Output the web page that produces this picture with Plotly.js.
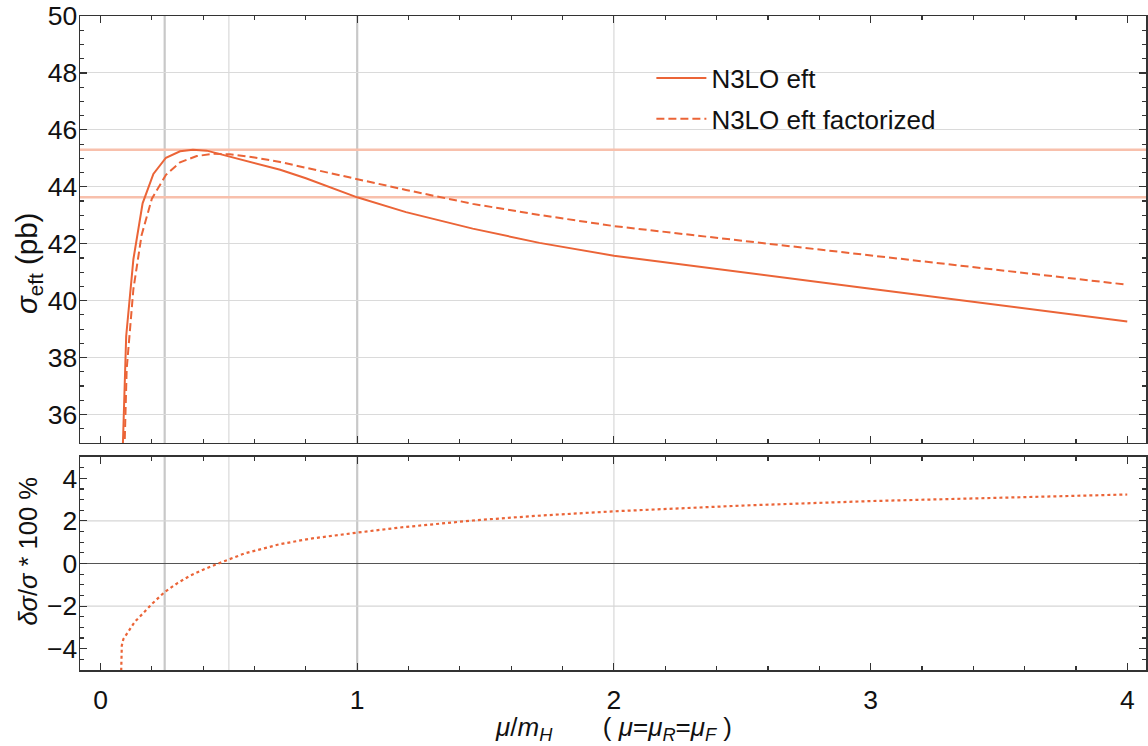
<!DOCTYPE html>
<html>
<head>
<meta charset="utf-8">
<script src="https://cdn.plot.ly/plotly-3.0.1.min.js"></script>
<style>html,body{margin:0;padding:0;background:#fff;}</style>
</head>
<body>
<div id="chart" style="width:1148px;height:746px;"></div>
<script>
// ---- data ----
const muSolid = [0.085, 0.100, 0.128, 0.164, 0.206, 0.255, 0.31, 0.36, 0.414, 0.504, 0.6, 0.7, 0.8, 0.9, 1.0, 1.19, 1.45, 1.71, 2.0, 3.0, 4.0];
const sigmaSolid = [34.3, 38.75, 41.45, 43.42, 44.45, 45.02, 45.25, 45.30, 45.27, 45.06, 44.85, 44.6, 44.3, 43.96, 43.63, 43.11, 42.53, 42.03, 41.58, 40.42, 39.27];

const muFact = [0.092, 0.102, 0.128, 0.16, 0.2, 0.255, 0.31, 0.375, 0.44, 0.504, 0.6, 0.7, 0.8, 0.9, 1.0, 1.19, 1.45, 1.71, 2.0, 3.0, 4.0];
const sigmaFact = [34.3, 37.6, 40.4, 42.3, 43.58, 44.42, 44.86, 45.08, 45.16, 45.14, 45.03, 44.87, 44.67, 44.47, 44.26, 43.89, 43.4, 43.01, 42.62, 41.6, 40.56];

const muRatio = [0.0795, 0.0815, 0.083, 0.089, 0.102, 0.134, 0.165, 0.2, 0.25, 0.3, 0.35, 0.4, 0.459, 0.5, 0.563, 0.7, 0.82, 1.0, 1.167, 1.45, 1.7, 2.0, 2.5, 3.0, 3.5, 4.0];
const ratioPct = [-5.6, -4.3, -3.85, -3.55, -3.3, -2.73, -2.35, -1.9, -1.34, -0.92, -0.57, -0.29, 0.0, 0.2, 0.48, 0.91, 1.17, 1.45, 1.69, 2.02, 2.24, 2.45, 2.72, 2.93, 3.1, 3.24];

const seriesNames = ["N3LO eft", "N3LO eft factorized"];
const xTickVals = [0, 1, 2, 3, 4];
const gridXStrong = [0.25, 1];
const gridXLight = [0.5, 2];
const gridY2 = [-2, 2];
// reference levels: maximum of the solid curve and its value at mu = mH
const refLevels = [Math.max(...sigmaSolid), sigmaSolid[muSolid.indexOf(1.0)]];

// ---- styling ----
const C = '#EB6437';
const FONT = 'Liberation Sans, Arial, sans-serif';
const TICKFONT = {family: FONT, size: 26.5, color: '#111'};
const frame = {showline: true, linecolor: '#333', linewidth: 1.5, mirror: 'allticks',
  ticks: 'inside', ticklen: 7, tickwidth: 1.2, tickcolor: '#333', zeroline: false};
const minorX = {dtick: 0.2, tick0: 0, ticks: 'inside', ticklen: 4, tickcolor: '#333', showgrid: false};
const minorY = {dtick: 0.5, tick0: 0, ticks: 'inside', ticklen: 4, tickcolor: '#333', showgrid: false};

const traces = [
  {x: muSolid, y: sigmaSolid, type: 'scatter', mode: 'lines', name: seriesNames[0],
   line: {color: C, width: 2}, xaxis: 'x', yaxis: 'y', legendgroup: 'a'},
  {x: muFact, y: sigmaFact, type: 'scatter', mode: 'lines', name: seriesNames[1],
   line: {color: C, width: 2, dash: '8px,4px'}, xaxis: 'x', yaxis: 'y', legendgroup: 'b'},
  {x: muRatio, y: ratioPct, type: 'scatter', mode: 'lines', showlegend: false,
   line: {color: C, width: 2.2, dash: '3px,3px'}, xaxis: 'x2', yaxis: 'y2'}
];

const shapes = [];
function vline(x, color, w) {
  ['y domain', 'y2 domain'].forEach((yr, i) => {
    shapes.push({type: 'line', layer: 'below', xref: i ? 'x2' : 'x', yref: yr, x0: x, x1: x, y0: 0, y1: 1,
      line: {color: color, width: w}});
  });
}
gridXStrong.forEach(x => vline(x, '#c8c8c8', 2.2));
gridXLight.forEach(x => vline(x, '#dedede', 1.4));
gridY2.forEach(y => shapes.push({type: 'line', layer: 'below', xref: 'x2 domain', yref: 'y2', x0: 0, x1: 1, y0: y, y1: y,
  line: {color: '#d6d6d6', width: 1.2}}));
refLevels.forEach(y => shapes.push({type: 'line', layer: 'below', xref: 'x domain', yref: 'y', x0: 0, x1: 1, y0: y, y1: y,
  line: {color: '#F8C0AC', width: 2.5}}));

const layout = {
  width: 1148, height: 746,
  margin: {l: 80, r: 2, t: 16, b: 76},
  paper_bgcolor: '#fff', plot_bgcolor: '#fff',
  font: {family: FONT, size: 24, color: '#111'},
  showlegend: true,
  legend: {x: 0.5360, xanchor: 'left', y: 0.941, yanchor: 'top', bgcolor: 'rgba(0,0,0,0)',
    font: {family: FONT, size: 26, color: '#111'}, itemwidth: 50, tracegroupgap: 4, traceorder: 'grouped'},
  xaxis: Object.assign({}, frame, {domain: [0, 1], anchor: 'y', range: [-0.0799, 4.073],
    tickvals: xTickVals, showticklabels: false, showgrid: false, minor: minorX}),
  yaxis: Object.assign({}, frame, {domain: [0.3471, 1], anchor: 'x', range: [35, 50],
    tick0: 0, dtick: 2, showgrid: true, gridcolor: '#dadada', gridwidth: 1,
    tickfont: TICKFONT, ticklabelstandoff: -4, minor: minorY}),
  xaxis2: Object.assign({}, frame, {domain: [0, 1], anchor: 'y2', matches: 'x', range: [-0.0799, 4.073],
    tickvals: xTickVals, showgrid: false, ticklabelstandoff: 6, tickfont: TICKFONT, minor: minorX}),
  yaxis2: Object.assign({}, frame, {domain: [0, 0.3257], anchor: 'x2', range: [-5, 5],
    tick0: 0, dtick: 2, showgrid: false, zeroline: true, zerolinecolor: '#555', zerolinewidth: 1.5,
    tickfont: TICKFONT, ticklabelstandoff: -4, minor: minorY}),
  shapes: shapes,
  annotations: [
    {xref: 'paper', yref: 'paper', x: 0.5, y: -0.09, xanchor: 'center', yanchor: 'middle', showarrow: false,
     text: '<i>μ</i>/<i>m</i><sub><i>H</i></sub>\u00a0\u00a0\u00a0\u00a0\u00a0\u00a0\u00a0( <i>μ</i>=<i>μ</i><sub><i>R</i></sub>=<i>μ</i><sub><i>F</i></sub> )',
     font: {family: FONT, size: 26, color: '#111'}},
    {xref: 'paper', yref: 'paper', x: -0.0488, y: 0.6223, xanchor: 'center', yanchor: 'middle', showarrow: false,
     textangle: -90, text: '<i>σ</i><sub>eft</sub> (pb)', font: {family: FONT, size: 29.5, color: '#111'}},
    {xref: 'paper', yref: 'paper', x: -0.0488, y: 0.181, xanchor: 'center', yanchor: 'middle', showarrow: false,
     textangle: -90, text: '<i>δσ</i>/<i>σ</i> * 100 %', font: {family: FONT, size: 25.5, color: '#111'}}
  ]
};

Plotly.newPlot('chart', traces, layout, {displayModeBar: false, staticPlot: true});
</script>
</body>
</html>
